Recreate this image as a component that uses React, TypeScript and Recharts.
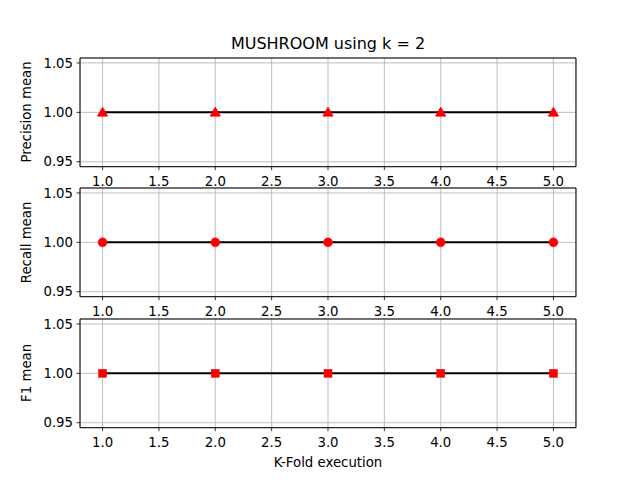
import React from "react";
import { LineChart, Line, XAxis, YAxis, CartesianGrid, ReferenceArea } from "recharts";

const FOLDS = [1, 2, 3, 4, 5];
const PRECISION = [1, 1, 1, 1, 1];
const RECALL = [1, 1, 1, 1, 1];
const F1 = [1, 1, 1, 1, 1];
const X_TICKS = [1, 1.5, 2, 2.5, 3, 3.5, 4, 4.5, 5];
const Y_TICKS = [0.95, 1.0, 1.05];

const FONT = "DejaVu Sans, sans-serif";
const PLOT_H = 108.7;
const PAD_T = 12;
const X_AXIS_H = 28;
const PAD_B = 32;

function Triangle(props: any) {
  const { cx, cy, index } = props;
  if (cx == null || cy == null) return null;
  const r = 5;
  return (
    <polygon
      key={index}
      points={`${cx},${cy - r} ${cx - r},${cy + r * 0.75} ${cx + r},${cy + r * 0.75}`}
      fill="#ff0000"
      stroke="#ff0000"
      strokeWidth={1}
    />
  );
}

function Circle(props: any) {
  const { cx, cy, index } = props;
  if (cx == null || cy == null) return null;
  return <circle key={index} cx={cx} cy={cy} r={4.5} fill="#ff0000" stroke="#ff0000" strokeWidth={0.5} />;
}

function Square(props: any) {
  const { cx, cy, index } = props;
  if (cx == null || cy == null) return null;
  return <rect key={index} x={cx - 4} y={cy - 4} width={8} height={8} fill="#ff0000" stroke="#ff0000" strokeWidth={0.5} />;
}

function Panel({ top, values, shape }: { top: number; values: number[]; shape: any }) {
  const data = FOLDS.map((f, i) => ({ fold: f, value: values[i] }));
  return (
    <div style={{ position: "absolute", left: 0, top: top - PAD_T }}>
      <LineChart
        width={640}
        height={PAD_T + PLOT_H + PAD_B}
        data={data}
        margin={{ top: PAD_T, right: 64, bottom: PAD_B - X_AXIS_H, left: 20 }}
      >
        <CartesianGrid stroke="#b0b0b0" strokeWidth={0.8} />
        <XAxis
          dataKey="fold"
          type="number"
          domain={[0.8, 5.2]}
          ticks={X_TICKS}
          interval={0}
          allowDataOverflow
          height={X_AXIS_H}
          axisLine={false}
          tickSize={3.5}
          tickMargin={6.5}
          tickLine={{ stroke: "#000", strokeWidth: 0.8 }}
          tick={{ fill: "#000", fontSize: 13.3, fontFamily: FONT }}
          tickFormatter={(v: number) => v.toFixed(1)}
        />
        <YAxis
          type="number"
          domain={[0.945, 1.055]}
          ticks={Y_TICKS}
          interval={0}
          allowDataOverflow
          width={60}
          axisLine={false}
          tickSize={3.5}
          tickMargin={3.5}
          tickLine={{ stroke: "#000", strokeWidth: 0.8 }}
          tick={{ fill: "#000", fontSize: 13.3, fontFamily: FONT }}
          tickFormatter={(v: number) => v.toFixed(2)}
        />
        <ReferenceArea
          x1={0.8}
          x2={5.2}
          y1={0.945}
          y2={1.055}
          fill="none"
          fillOpacity={0}
          stroke="#000"
          strokeWidth={1}
          ifOverflow="visible"
        />
        <Line
          dataKey="value"
          stroke="#000"
          strokeWidth={2}
          dot={shape}
          activeDot={false}
          isAnimationActive={false}
        />
      </LineChart>
    </div>
  );
}

export default function App() {
  const tops = [57.6, 188.1, 318.5];
  const labels = ["Precision mean", "Recall mean", "F1 mean"];
  return (
    <div style={{ position: "absolute", left: 0, top: 0, width: 640, height: 480, background: "#fff", fontFamily: FONT }}>
      <Panel top={tops[0]} values={PRECISION} shape={Triangle} />
      <Panel top={tops[1]} values={RECALL} shape={Circle} />
      <Panel top={tops[2]} values={F1} shape={Square} />
      <svg width={640} height={480} style={{ position: "absolute", left: 0, top: 0, pointerEvents: "none" }}>
        <text x={328} y={49} textAnchor="middle" fontSize={16} fontFamily={FONT} fill="#000">
          MUSHROOM using k = 2
        </text>
        {labels.map((l, i) => {
          const cy = tops[i] + PLOT_H / 2;
          return (
            <text
              key={l}
              x={31}
              y={cy}
              transform={`rotate(-90 31 ${cy})`}
              textAnchor="middle"
              fontSize={13.3}
              fontFamily={FONT}
              fill="#000"
            >
              {l}
            </text>
          );
        })}
        <text x={328} y={467} textAnchor="middle" fontSize={13.3} fontFamily={FONT} fill="#000">
          K-Fold execution
        </text>
      </svg>
    </div>
  );
}
